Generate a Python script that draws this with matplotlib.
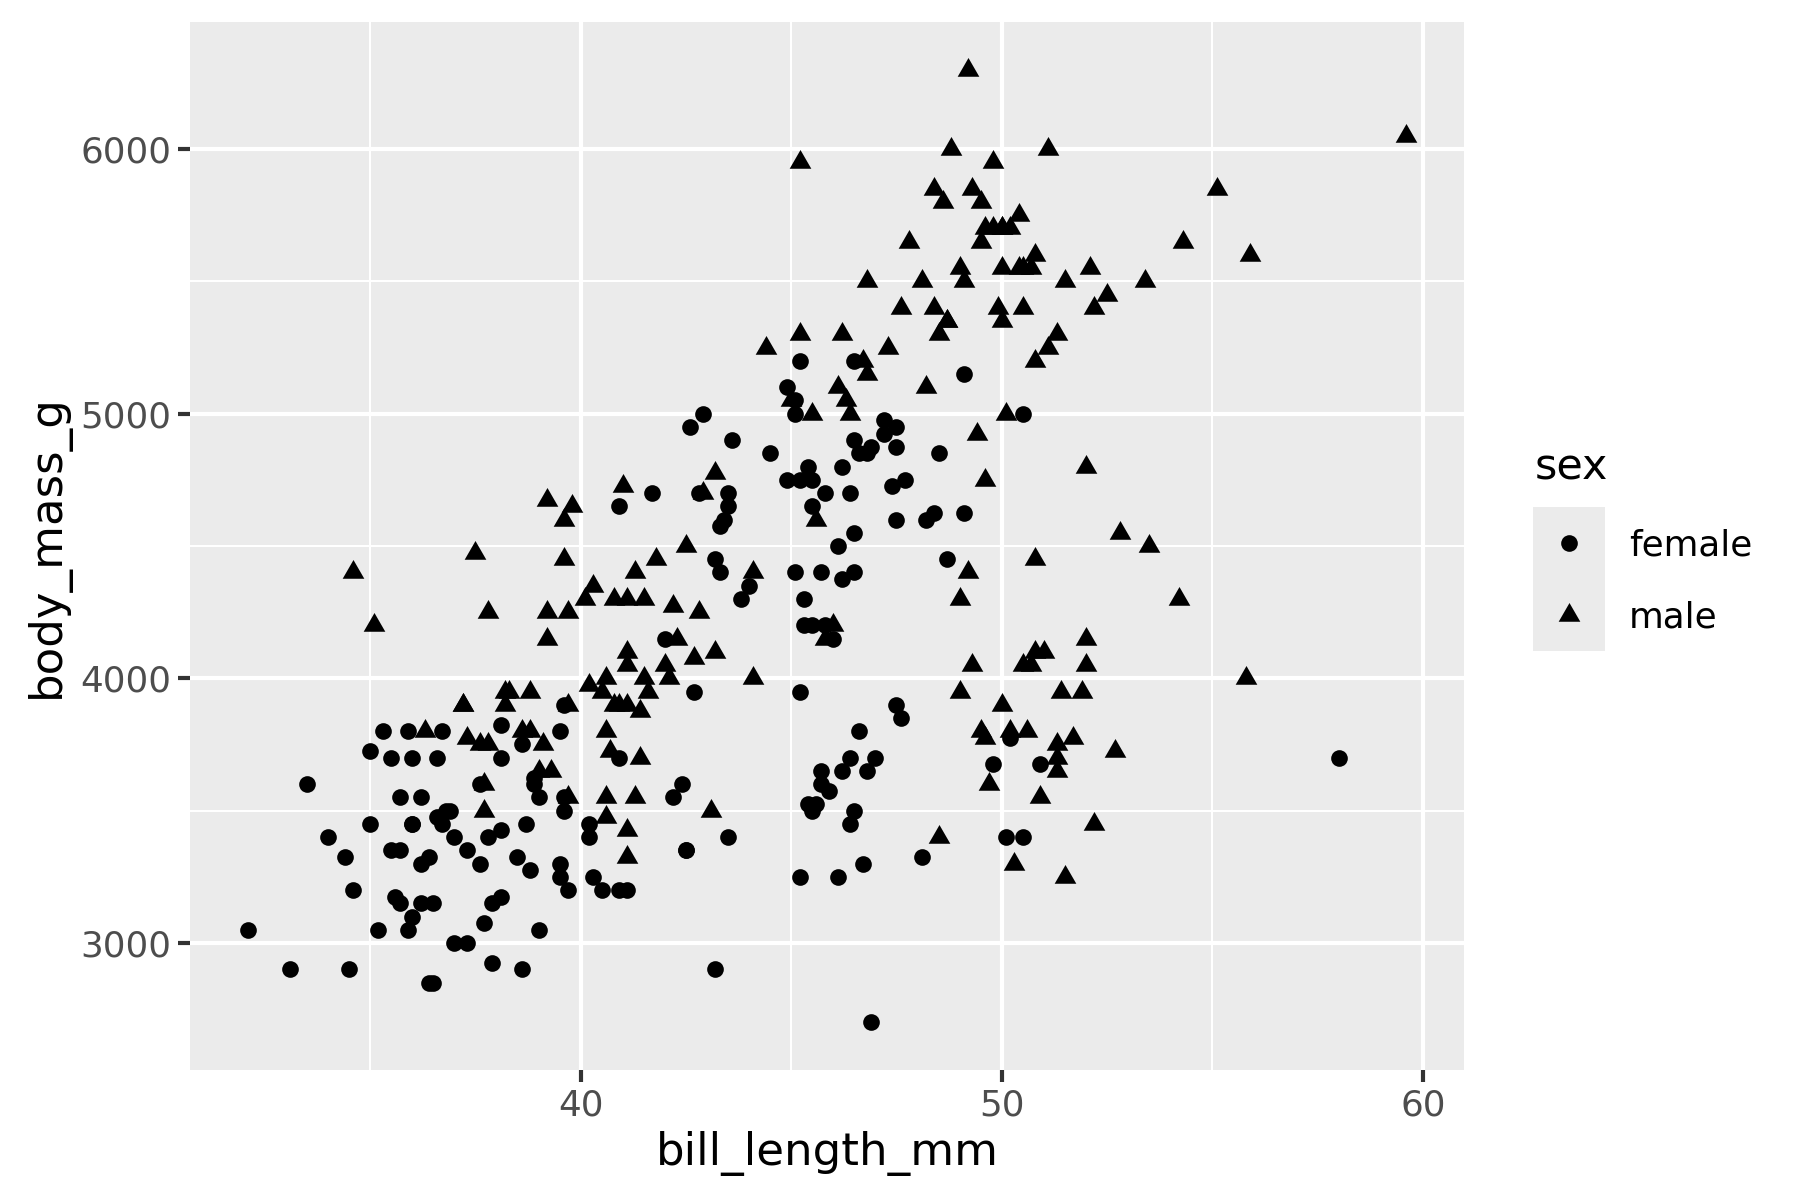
import matplotlib
matplotlib.use("Agg")
import matplotlib.pyplot as plt
from matplotlib.patches import Rectangle
from matplotlib.lines import Line2D
import numpy as np

# penguins: bill length (mm), body mass (g), sex  -- rows with missing sex dropped
adelie_bill = [39.1, 39.5, 40.3, 36.7, 39.3, 38.9, 39.2, 41.1, 38.6, 34.6, 36.6, 38.7, 42.5, 34.4, 46.0,
               37.8, 37.7, 35.9, 38.2, 38.8, 35.3, 40.6, 40.5, 37.9, 40.5,
               39.5, 37.2, 39.5, 40.9, 36.4, 39.2, 38.8, 42.2, 37.6, 39.8, 36.5, 40.8, 36.0, 44.1, 37.0, 39.6, 41.1, 36.0, 42.3,
               39.6, 40.1, 35.0, 42.0, 34.5, 41.4, 39.0, 40.6, 36.5, 37.6, 35.7, 41.3, 37.6, 41.1, 36.4, 41.6, 35.5, 41.1,
               35.9, 41.8, 33.5, 39.7, 39.6, 45.8, 35.5, 42.8, 40.9, 37.2, 36.2, 42.1, 34.6, 42.9, 36.7, 35.1,
               37.3, 41.3, 36.3, 36.9, 38.3, 38.9, 35.7, 41.1, 34.0, 39.6, 36.2, 40.8, 38.1, 40.3, 33.1, 43.2,
               35.0, 41.0, 37.7, 37.8, 37.9, 39.7, 38.6, 38.2, 38.1, 43.2, 38.1, 45.6, 39.7, 42.2, 39.6, 42.7,
               38.6, 37.3, 35.7, 41.1, 36.2, 37.7, 40.2, 41.4, 35.2, 40.6, 38.8, 41.5, 39.0, 44.1, 38.5, 43.1,
               36.8, 37.5, 38.1, 41.1, 35.6, 40.2, 37.0, 39.7, 40.2, 40.6, 32.1, 40.7, 37.3, 39.0, 39.2, 36.6, 36.0, 37.8, 36.0, 41.5]
adelie_mass = [3750, 3800, 3250, 3450, 3650, 3625, 4675, 3200, 3800, 4400, 3700, 3450, 4500, 3325, 4200,
               3400, 3600, 3800, 3950, 3800, 3800, 3550, 3200, 3150, 3950,
               3250, 3900, 3300, 3900, 3325, 4150, 3950, 3550, 3300, 4650, 3150, 3900, 3100, 4400, 3000, 4600, 3425, 3450, 4150,
               3500, 4300, 3450, 4050, 2900, 3700, 3550, 3800, 2850, 3750, 3150, 4400, 3600, 4050, 2850, 3950, 3350, 4100,
               3050, 4450, 3600, 3900, 3550, 4150, 3700, 4250, 3700, 3900, 3550, 4000, 3200, 4700, 3800, 4200,
               3350, 3550, 3800, 3500, 3950, 3600, 3550, 4300, 3400, 4450, 3300, 4300, 3700, 4350, 2900, 4100,
               3725, 4725, 3075, 4250, 2925, 3550, 3750, 3900, 3175, 4775, 3825, 4600, 3200, 4275, 3900, 4075,
               2900, 3775, 3350, 3325, 3150, 3500, 3450, 3875, 3050, 4000, 3275, 4300, 3050, 4000, 3325, 3500,
               3500, 4475, 3425, 3900, 3175, 3975, 3400, 4250, 3400, 3475, 3050, 3725, 3000, 3650, 4250, 3475, 3450, 3750, 3700, 4000]
adelie_sex = ("mfffmfmfmmffmfm"
              "fmfmmfmffm"
              "fmfmfmmffmfmfmfmmfm"
              "fmfmfmfmfmfmfmfmfm"
              "fmfmfmfmfmfmfmfm"
              "fmmfmffmfmfmfmfm"
              "fmfmfmfmfmfmfmfm"
              "fmfmfmfmfmfmfmfm"
              "fmfmfmfmfmfmfmmffmfm")

gentoo_bill = [46.1, 50.0, 48.7, 50.0, 47.6, 46.5, 45.4, 46.7, 43.3, 46.8, 40.9, 49.0, 45.5, 48.4, 45.8, 49.3,
               42.0, 49.2, 46.2, 48.7, 50.2, 45.1, 46.5, 46.3, 42.9, 46.1, 47.8, 48.2, 50.0, 47.3, 42.8, 45.1,
               59.6, 49.1, 48.4, 42.6, 44.4, 44.0, 48.7, 42.7, 49.6, 45.3, 49.6, 50.5, 43.6, 45.5, 50.5, 44.9,
               45.2, 46.6, 48.5, 45.1, 50.1, 46.5, 45.0, 43.8, 45.5, 43.2, 50.4, 45.3, 46.2, 45.7, 54.3, 45.8,
               49.8, 49.5, 43.5, 50.7, 47.7, 46.4, 48.2, 46.5, 46.4, 48.6, 47.5, 51.1, 45.2, 45.2, 49.1, 52.5,
               47.4, 50.0, 44.9, 50.8, 43.4, 51.3, 47.5, 52.1, 47.5, 52.2, 45.5, 49.5, 44.5, 50.8, 49.4, 46.9,
               48.4, 51.1, 48.5, 55.9, 47.2, 49.1, 46.8, 41.7, 53.4, 43.3, 48.1, 50.5, 49.8, 43.5, 51.5, 46.2,
               55.1, 48.8, 47.2, 46.8, 50.4, 45.2, 49.9]
gentoo_mass = [4500, 5700, 4450, 5700, 5400, 4550, 4800, 5200, 4400, 5150, 4650, 5550, 4650, 5850, 4200, 5850,
               4150, 6300, 4800, 5350, 5700, 5000, 4400, 5050, 5000, 5100, 5650, 4600, 5550, 5250, 4700, 5050,
               6050, 5150, 5400, 4950, 5250, 4350, 5350, 3950, 5700, 4300, 4750, 5550, 4900, 4200, 5400, 5100,
               5300, 4850, 5300, 4400, 5000, 4900, 5050, 4300, 5000, 4450, 5550, 4200, 5300, 4400, 5650, 4700,
               5700, 5800, 4700, 5550, 4750, 5000, 5100, 5200, 4700, 5800, 4600, 6000, 4750, 5950, 4625, 5450,
               4725, 5350, 4750, 5600, 4600, 5300, 4875, 5550, 4950, 5400, 4750, 5650, 4850, 5200, 4925, 4875,
               4625, 5250, 4850, 5600, 4975, 5500, 5500, 4700, 5500, 4575, 5500, 5000, 5950, 4650, 5500, 4375,
               5850, 6000, 4925, 4850, 5750, 5200, 5400]
gentoo_sex = ("fmfmmffmfmfmfmfm"
              "fmfmmffmfmmfmmff"
              "mfmfmfmfmfmmffmf"
              "mfmfmfmfmfmfmfmf"
              "mmfmfmmffmfmfmfm"
              "fmfmfmfmfmfmfmmf"
              "fmfmfmmfmfmfmfmf"
              "mmffmfm")

chinstrap_bill = [46.5, 50.0, 51.3, 45.4, 52.7, 45.2, 46.1, 51.3, 46.0, 51.3, 46.6, 51.7, 47.0, 52.0, 45.9, 50.5, 50.3,
                  58.0, 46.4, 49.2, 42.4, 48.5, 43.2, 50.6, 46.7, 52.0, 50.5, 49.5, 46.4, 52.8, 40.9, 54.2, 42.5, 51.0,
                  49.7, 47.5, 47.6, 52.0, 46.9, 53.5, 49.0, 46.2, 50.9, 45.5, 50.9, 50.8, 50.1, 49.0, 51.5, 49.8, 48.1,
                  51.4, 45.7, 50.7, 42.5, 52.2, 45.2, 49.3, 50.2, 45.6, 51.9, 46.8, 45.7, 55.8, 43.5, 49.6, 50.8, 50.2]
chinstrap_mass = [3500, 3900, 3650, 3525, 3725, 3950, 3250, 3750, 4150, 3700, 3800, 3775, 3700, 4050, 3575, 4050, 3300,
                  3700, 3450, 4400, 3600, 3400, 2900, 3800, 3300, 4150, 3400, 3800, 3700, 4550, 3200, 4300, 3350, 4100,
                  3600, 3900, 3850, 4800, 2700, 4500, 3950, 3650, 3550, 3500, 3675, 4450, 3400, 4300, 3250, 3675, 3325,
                  3950, 3600, 4050, 3350, 3450, 3250, 4050, 3800, 3525, 3950, 3650, 3650, 4000, 3400, 3775, 4100, 3775]
chinstrap_sex = ("fmmfmffmfmfmfmfmm"
                 "ffmfmfmfmfmfmfmfm"
                 "mffmfmmfmffmfmmff"
                 "mfmfmfmmfmffmfmmf")

bill = np.array(adelie_bill + gentoo_bill + chinstrap_bill)
mass = np.array(adelie_mass + gentoo_mass + chinstrap_mass)
sex = np.array(list(adelie_sex + gentoo_sex + chinstrap_sex))

x_major = [40, 50, 60]
x_minor = [35, 45, 55]
y_major = [3000, 4000, 5000, 6000]
y_minor = [3500, 4500, 5500]

W, H = 1800, 1200
fig = plt.figure(figsize=(6, 4), dpi=300)
ax = fig.add_axes([190 / W, 130 / H, 1274 / W, 1048 / H])
ax.set_facecolor("#EBEBEB")
for s in ax.spines.values():
    s.set_visible(False)

# equilateral triangle centred on its centroid (ggplot shape 17)
tri = [(0, 0.577), (-0.5, -0.289), (0.5, -0.289), (0, 0.577)]

f = sex == "f"
m = sex == "m"
ax.scatter(bill[f], mass[f], s=4.0 ** 2, marker="o", color="black", linewidths=0, zorder=3)
ax.scatter(bill[m], mass[m], s=6.0 ** 2, marker=tri, color="black", linewidths=0, zorder=3)

# ggplot style 5% expansion
xr = bill.max() - bill.min()
yr = mass.max() - mass.min()
ax.set_xlim(bill.min() - 0.05 * xr, bill.max() + 0.05 * xr)
ax.set_ylim(mass.min() - 0.05 * yr, mass.max() + 0.05 * yr)

ax.set_xticks(x_major)
ax.set_xticks(x_minor, minor=True)
ax.set_yticks(y_major)
ax.set_yticks(y_minor, minor=True)
ax.set_axisbelow(True)
ax.grid(which="major", color="white", linewidth=1.0)
ax.grid(which="minor", color="white", linewidth=0.5)
ax.tick_params(which="major", length=2.9, width=1.0, color="#333333",
               labelcolor="#4D4D4D", labelsize=8.6, pad=1.5)
ax.tick_params(which="minor", length=0)

ax.set_xlabel("bill_length_mm", fontsize=10.8, labelpad=2.0)
ax.set_ylabel("body_mass_g", fontsize=10.8, labelpad=2.5)

# legend, drawn by hand to get the grey key box
fig.add_artist(Rectangle((1533 / W, 1 - 651 / H), 72 / W, 144 / H,
                         transform=fig.transFigure, facecolor="#EBEBEB", edgecolor="none"))
fig.add_artist(Line2D([1569 / W], [1 - 543 / H], marker="o", markersize=4.0, color="black",
                      markeredgewidth=0, transform=fig.transFigure))
fig.add_artist(Line2D([1569 / W], [1 - 615 / H], marker=tri, markersize=6.0, color="black",
                      markeredgewidth=0, transform=fig.transFigure))
fig.text(1535 / W, 1 - 480 / H, "sex", fontsize=10.3, va="baseline", ha="left")
fig.text(1629 / W, 1 - 556 / H, "female", fontsize=8.6, va="baseline", ha="left")
fig.text(1629 / W, 1 - 627 / H, "male", fontsize=8.6, va="baseline", ha="left")

fig.savefig("out.png", dpi=300, facecolor="white")
